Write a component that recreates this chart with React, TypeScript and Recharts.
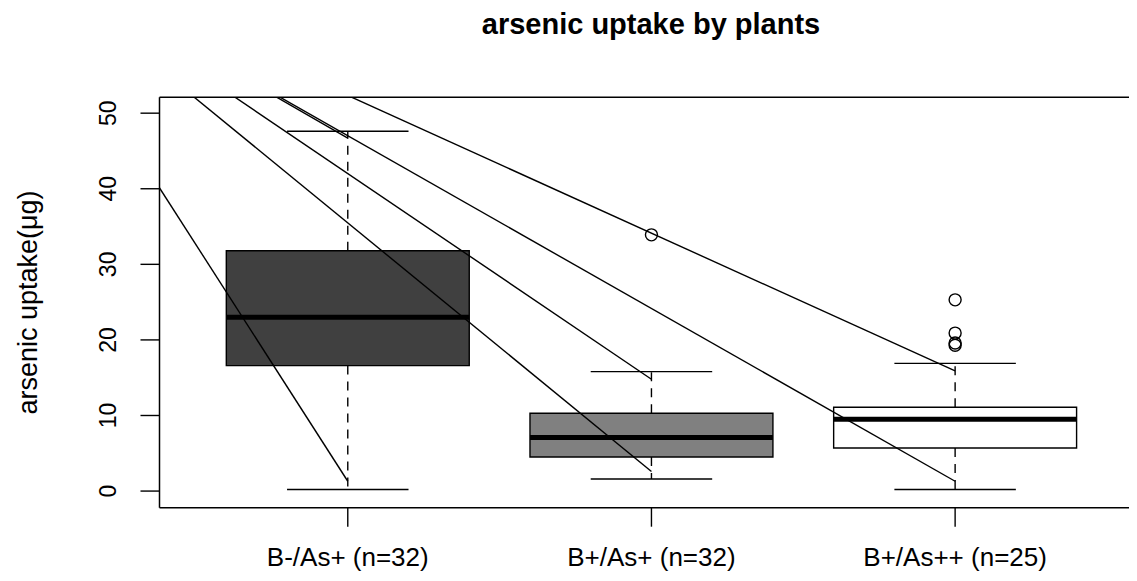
import React from "react";
import {
  ComposedChart,
  XAxis,
  YAxis,
  Line,
  Scatter,
  ReferenceArea,
  ReferenceLine,
  Label,
} from "recharts";

const groups = ["B-/As+ (n=32)", "B+/As+ (n=32)", "B+/As++ (n=25)"];
const lowerWhisker = [0.2, 1.6, 0.2];
const lowerHinge = [16.6, 4.5, 5.7];
const medians = [23.0, 7.1, 9.5];
const upperHinge = [31.8, 10.3, 11.1];
const upperWhisker = [47.6, 15.8, 16.9];
const outliers = [[], [33.9], [25.3, 20.9, 19.6, 19.3]];
const yTicks = [0, 10, 20, 30, 40, 50];

// lines all start from one point up-left of the plot, clipped at the frame
const lineOrigin = { x: -0.15, y: 73.3 };
const lineTargets = [
  { x: 1, y: 1.3 },
  { x: 2, y: 2.6 },
  { x: 2, y: 14.8 },
  { x: 1, y: 46.7 },
  { x: 3, y: 1.3 },
  { x: 3, y: 15.9 },
];

const boxFills = ["rgb(64,64,64)", "rgb(128,128,128)", "rgb(255,255,255)"];
const FONT = '"Liberation Sans", Arial, sans-serif';
const X_DOMAIN: [number, number] = [0.38, 3.62];
const Y_DOMAIN: [number, number] = [-2.2, 52.1];

const outlierPoints = outliers.flatMap((vals, i) => vals.map((v) => ({ x: i + 1, y: v })));

const [x0, x1] = X_DOMAIN;
const [y0, y1] = Y_DOMAIN;
const frameSides = [
  [{ x: x0, y: y1 }, { x: x1, y: y1 }],
  [{ x: x0, y: y0 }, { x: x1, y: y0 }],
  [{ x: x0, y: y0 }, { x: x0, y: y1 }],
  [{ x: x1, y: y0 }, { x: x1, y: y1 }],
];

function YTick(props: any) {
  const { x, y, payload } = props;
  return (
    <text
      x={x}
      y={y}
      transform={`rotate(-90 ${x} ${y})`}
      textAnchor="middle"
      fontSize={23}
      fontFamily={FONT}
      fill="#000"
    >
      {payload.value}
    </text>
  );
}

function XTick(props: any) {
  const { x, y, payload } = props;
  return (
    <text x={x} y={y} dy="0.71em" textAnchor="middle" fontSize={26} fontFamily={FONT} fill="#000">
      {groups[payload.value - 1]}
    </text>
  );
}

function OpenCircle(props: any) {
  const { cx, cy } = props;
  return <circle cx={cx} cy={cy} r={6} fill="none" stroke="#000" strokeWidth={1.4} />;
}

export default function App() {
  return (
    <div
      style={{
        margin: -8,
        width: 1137,
        height: 581,
        overflow: "hidden",
        position: "relative",
        background: "#fff",
        fontFamily: FONT,
      }}
    >
      <div
        style={{
          position: "absolute",
          top: 9.5,
          left: 0,
          width: 1302,
          textAlign: "center",
          fontSize: 29,
          lineHeight: "29px",
          fontWeight: "bold",
          color: "#000",
        }}
      >
        arsenic uptake by plants
      </div>
      <ComposedChart width={1150} height={581} margin={{ top: 97.3, right: 6.6, bottom: 13.3, left: 0 }}>
        <XAxis
          type="number"
          dataKey="x"
          domain={X_DOMAIN}
          allowDataOverflow
          ticks={[1, 2, 3]}
          interval={0}
          height={60}
          axisLine={false}
          tickLine={{ stroke: "#000", strokeWidth: 1.4 }}
          tickSize={19}
          tickMargin={21}
          tick={<XTick />}
        />
        <YAxis
          type="number"
          dataKey="y"
          domain={Y_DOMAIN}
          allowDataOverflow
          ticks={yTicks}
          interval={0}
          width={159.5}
          axisLine={false}
          tickLine={{ stroke: "#000", strokeWidth: 1.4 }}
          tickSize={19}
          tickMargin={24}
          tick={<YTick />}
        >
          <Label
            content={(p: any) => {
              const vb = p.viewBox || { x: 0, y: 97.3, height: 410 };
              const cx = vb.x + 37;
              const cy = vb.y + vb.height / 2;
              return (
                <text
                  x={cx}
                  y={cy}
                  transform={`rotate(-90 ${cx} ${cy})`}
                  textAnchor="middle"
                  fontSize={27}
                  fontFamily={FONT}
                  fill="#000"
                >
                  arsenic uptake(μg)
                </text>
              );
            }}
          />
        </YAxis>

        {groups.map((_, i) => (
          <ReferenceLine
            key={`lw${i}`}
            segment={[
              { x: i + 1, y: lowerHinge[i] },
              { x: i + 1, y: lowerWhisker[i] },
            ]}
            stroke="#000"
            strokeWidth={1.4}
            strokeDasharray="9 7"
            ifOverflow="visible"
            zIndex={150}
          />
        ))}
        {groups.map((_, i) => (
          <ReferenceLine
            key={`uw${i}`}
            segment={[
              { x: i + 1, y: upperHinge[i] },
              { x: i + 1, y: upperWhisker[i] },
            ]}
            stroke="#000"
            strokeWidth={1.4}
            strokeDasharray="9 7"
            ifOverflow="visible"
            zIndex={150}
          />
        ))}
        {groups.map((_, i) => (
          <ReferenceLine
            key={`lc${i}`}
            segment={[
              { x: i + 0.8, y: lowerWhisker[i] },
              { x: i + 1.2, y: lowerWhisker[i] },
            ]}
            stroke="#000"
            strokeWidth={1.4}
            ifOverflow="visible"
            zIndex={150}
          />
        ))}
        {groups.map((_, i) => (
          <ReferenceLine
            key={`uc${i}`}
            segment={[
              { x: i + 0.8, y: upperWhisker[i] },
              { x: i + 1.2, y: upperWhisker[i] },
            ]}
            stroke="#000"
            strokeWidth={1.4}
            ifOverflow="visible"
            zIndex={150}
          />
        ))}
        {groups.map((_, i) => (
          <ReferenceArea
            key={`box${i}`}
            x1={i + 0.6}
            x2={i + 1.4}
            y1={lowerHinge[i]}
            y2={upperHinge[i]}
            fill={boxFills[i]}
            fillOpacity={1}
            stroke="#000"
            strokeWidth={1.4}
            ifOverflow="visible"
            zIndex={160}
          />
        ))}
        {groups.map((_, i) => (
          <ReferenceLine
            key={`med${i}`}
            segment={[
              { x: i + 0.6, y: medians[i] },
              { x: i + 1.4, y: medians[i] },
            ]}
            stroke="#000"
            strokeWidth={5}
            ifOverflow="visible"
            zIndex={170}
          />
        ))}
        {frameSides.map((seg, i) => (
          <ReferenceLine
            key={`frame${i}`}
            segment={seg}
            stroke="#000"
            strokeWidth={1.5}
            ifOverflow="visible"
            zIndex={180}
          />
        ))}

        <Scatter
          data={outlierPoints}
          dataKey="y"
          shape={<OpenCircle />}
          isAnimationActive={false}
          zIndex={600}
        />
        {lineTargets.map((t, i) => (
          <Line
            key={`ln${i}`}
            data={[lineOrigin, t]}
            dataKey="y"
            type="linear"
            stroke="#000"
            strokeWidth={1.4}
            dot={false}
            activeDot={false}
            isAnimationActive={false}
            zIndex={700}
          />
        ))}
      </ComposedChart>
    </div>
  );
}
